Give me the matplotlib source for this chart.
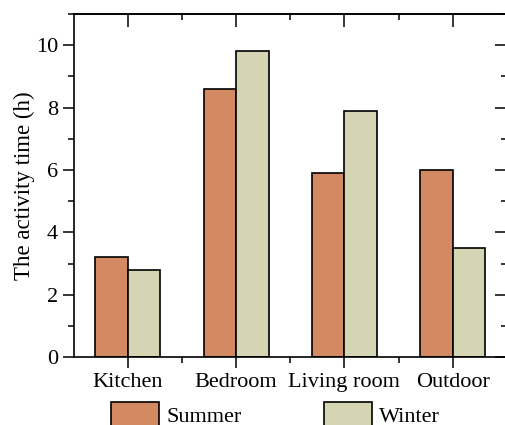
import matplotlib
matplotlib.use("Agg")
import matplotlib.pyplot as plt
import numpy as np
from matplotlib.ticker import FixedLocator, MultipleLocator

plt.rcParams['font.family'] = ['Liberation Serif', 'DejaVu Serif']

categories = ["Kitchen", "Bedroom", "Living room", "Outdoor"]
summer = [3.2, 8.6, 5.9, 6.0]
winter = [2.8, 9.8, 7.9, 3.5]
series_names = ["Summer", "Winter"]
y_ticks = [0, 2, 4, 6, 8, 10]

W, H = 505, 425
fig = plt.figure(figsize=(W / 100, H / 100), dpi=100)
ax = fig.add_axes([73.5 / W, 1 - 357.3 / H, (507 - 73.5) / W, (357.3 - 14) / H])

x = np.arange(len(categories))
bw = 0.3
c_summer = "#D38A62"
c_winter = "#D5D5B3"
ax.bar(x - bw / 2, summer, bw, color=c_summer, edgecolor="black", linewidth=1.2, label=series_names[0])
ax.bar(x + bw / 2, winter, bw, color=c_winter, edgecolor="black", linewidth=1.2, label=series_names[1])

ax.set_xlim(-0.5, 3.5)
ax.set_ylim(0, 11)
ax.set_xticks(x)
ax.set_xticklabels(categories)
ax.xaxis.set_minor_locator(FixedLocator([0.5, 1.5, 2.5]))
ax.set_yticks(y_ticks)
ax.yaxis.set_minor_locator(MultipleLocator(1))

fs = 16
ax.tick_params(axis='both', which='major', direction='out', length=8, width=1.1, labelsize=fs, pad=3)
ax.tick_params(axis='both', which='minor', direction='out', length=4, width=1.1)
ax.set_ylabel("The activity time (h)", fontsize=fs + 0.5, labelpad=1)

for s in ax.spines.values():
    s.set_linewidth(1.2)
ax.spines['right'].set_visible(False)

top = ax.secondary_xaxis('top')
top.set_xticks(x)
top.xaxis.set_minor_locator(FixedLocator([0.5, 1.5, 2.5]))
top.tick_params(which='major', direction='in', length=9, width=1.1, labeltop=False)
top.tick_params(which='minor', direction='in', length=4, width=1.1)
top.spines['top'].set_linewidth(1.2)

# inward ticks along the right edge, drawn on the main axes' right side
ax.tick_params(axis='y', which='both', right=True)
for t in ax.yaxis.get_major_ticks():
    t.tick2line.set_markersize(9)
    t.tick2line.set_marker(matplotlib.lines.TICKLEFT)
for t in ax.yaxis.get_minor_ticks():
    t.tick2line.set_markersize(4)
    t.tick2line.set_marker(matplotlib.lines.TICKLEFT)

fig.legend(loc='upper left', bbox_to_anchor=(110.5 / W, 1 - 402 / H), ncol=2, frameon=False,
           fontsize=fs, handlelength=2.2, handleheight=1.4, handletextpad=0.3,
           columnspacing=3.7, borderpad=0, borderaxespad=0)

fig.savefig("out.png", dpi=100)
